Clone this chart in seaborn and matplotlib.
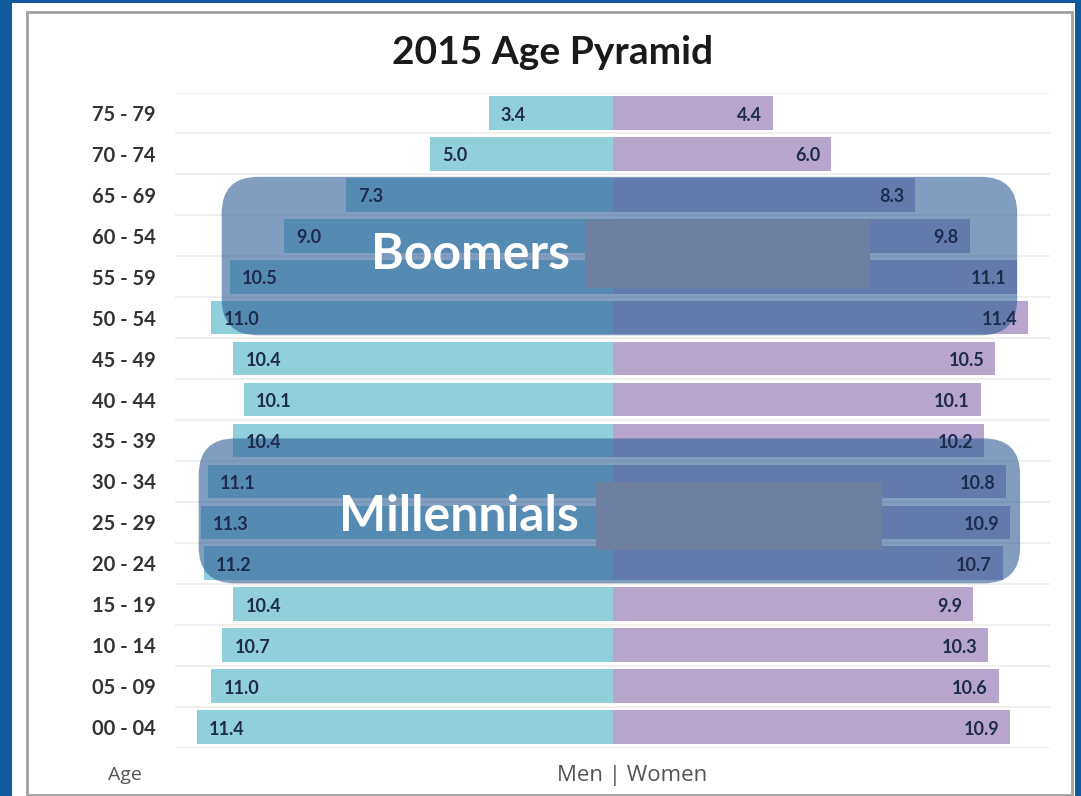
import matplotlib
matplotlib.use("Agg")
import matplotlib.pyplot as plt
from matplotlib.patches import FancyBboxPatch, Rectangle
import numpy as np
import pandas as pd
import seaborn as sns

##--- data
ages = ["75 - 79", "70 - 74", "65 - 69", "60 - 54", "55 - 59", "50 - 54", "45 - 49", "40 - 44",
        "35 - 39", "30 - 34", "25 - 29", "20 - 24", "15 - 19", "10 - 14", "05 - 09", "00 - 04"]
men = [3.4, 5.0, 7.3, 9.0, 10.5, 11.0, 10.4, 10.1, 10.4, 11.1, 11.3, 11.2, 10.4, 10.7, 11.0, 11.4]
women = [4.4, 6.0, 8.3, 9.8, 11.1, 11.4, 10.5, 10.1, 10.2, 10.8, 10.9, 10.7, 9.9, 10.3, 10.6, 10.9]
groups = ["Boomers", "Millennials"]

sns.set_style("white")
plt.rcParams['font.family'] = ['Lato', 'DejaVu Sans']

df = pd.DataFrame({"age": ages, "men": [-m for m in men], "women": women})

fig = plt.figure(figsize=(10.81, 7.96), dpi=100, facecolor="#0e5a9c")
# white panel + thin grey frame
fig.patches.append(Rectangle((12/1081, 0), 1063/1081, 793/796, transform=fig.transFigure,
                             facecolor="white", edgecolor="none", zorder=-2))
fig.patches.append(Rectangle((27/1081, 1/796), 1045/1081, 783/796, transform=fig.transFigure,
                             facecolor="none", edgecolor="#a0a0a0", lw=2, zorder=-1))

ax = fig.add_axes([175/1081, 1 - 747.5/796, 875/1081, 655/796])
ax.set_zorder(3)
ax.set_facecolor("none")

sns.barplot(data=df, x="men", y="age", color="#91cfdd", saturation=1, width=0.82, ax=ax,
            orient="h", linewidth=0, zorder=2)
sns.barplot(data=df, x="women", y="age", color="#b7a5cd", saturation=1, width=0.82, ax=ax,
            orient="h", linewidth=0, zorder=2)

ax.set_xlim(-12, 12)
ax.set_ylim(len(ages) - 0.5, -0.5)

# faint row separators
for yy in np.arange(-0.5, len(ages), 1.0):
    ax.axhline(yy, color="#ececec", lw=1.2, zorder=1)

# value labels
for i, (m, w) in enumerate(zip(men, women)):
    ax.text(-m + 0.33, i + 0.05, f"{m:.1f}", ha="left", va="center", fontsize=13,
            fontweight="bold", color="#1d2b4c", zorder=7)
    ax.text(w - 0.3, i + 0.05, f"{w:.1f}", ha="right", va="center", fontsize=13,
            fontweight="bold", color="#1d2b4c", zorder=7)

# generation overlays
box_x = [(-10.72, 11.1), (-11.35, 11.18)]
box_y = [(1.56, 5.43), (7.95, 11.49)]
grey_x = [(-0.75, 7.05), (-0.45, 7.4)]
grey_y = [(2.62, 4.28), (9.02, 10.68)]
text_x = [-3.9, -4.2]
for g, (x0, x1), (y0, y1), (gx0, gx1), (gy0, gy1), tx in zip(groups, box_x, box_y, grey_x, grey_y, text_x):
    ax.add_patch(FancyBboxPatch((x0, y0), x1 - x0, y1 - y0,
                                boxstyle="round,pad=0,rounding_size=1.0", mutation_aspect=0.89,
                                facecolor="#2e5c97", alpha=0.6, edgecolor="none", zorder=4))
    ax.add_patch(Rectangle((gx0, gy0), gx1 - gx0, gy1 - gy0, facecolor="#6f7fa0",
                           edgecolor="none", zorder=5))
    ax.text(tx, (gy0 + gy1) / 2, g, ha="center", va="center", fontsize=36, fontweight="bold",
            color="white", zorder=6)

ax.set_xticks([])
ax.set_xlabel("")
ax.set_ylabel("")
ax.tick_params(axis="y", length=0, pad=14)
for lab in ax.get_yticklabels():
    lab.set_fontsize(14.5)
    lab.set_fontweight("bold")
    lab.set_color("#333333")
sns.despine(ax=ax, left=True, bottom=True)

fig.text(553/1081, 1 - 52/796, "2015 Age Pyramid", ha="center", va="center",
         fontsize=28, fontweight="bold", color="#1a1a1a")
fig.text(125/1081, 1 - 775/796, "Age", ha="center", va="center", fontsize=14,
         color="#555555", family=["Open Sans", "DejaVu Sans"])
fig.text(632/1081, 1 - 775/796, "Men | Women", ha="center", va="center", fontsize=16,
         color="#555555", family=["Open Sans", "DejaVu Sans"])

fig.savefig("out.png", dpi=100, facecolor=fig.get_facecolor())
